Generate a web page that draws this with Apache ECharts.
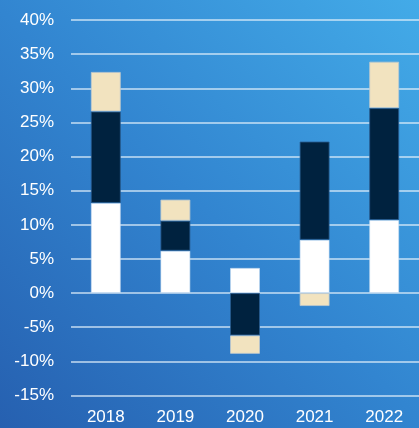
<!DOCTYPE html>
<html>
<head>
<meta charset="utf-8">
<script src="https://cdn.jsdelivr.net/npm/echarts@6/dist/echarts.min.js"></script>
<style>
  html, body { margin: 0; padding: 0; }
  #chart { width: 419px; height: 428px; }
</style>
</head>
<body>
<div id="chart"></div>
<script>
// Years along the x axis
const years = ['2018', '2019', '2020', '2021', '2022'];

// Stacked contributions (percent)
const whiteSeg = [13.2, 6.2, 3.7, 7.8, 10.7];
const navySeg = [13.4, 4.4, -6.2, 14.4, 16.4];
const beigeSeg = [5.8, 3.1, -2.7, -1.9, 6.8];

// Y axis range
const yMin = -15;
const yMax = 40;
const yStep = 5;

const chart = echarts.init(document.getElementById('chart'), null, { renderer: 'canvas' });

function seg(name, data, color, border) {
  return {
    name: name,
    type: 'bar',
    stack: 'total',
    data: data,
    barWidth: 30,
    itemStyle: { color: color, borderColor: border, borderWidth: 1 },
    emphasis: { disabled: true }
  };
}

chart.setOption({
  animation: false,
  backgroundColor: new echarts.graphic.LinearGradient(0, 1, 1, 0, [
    { offset: 0, color: '#2660b0' },
    { offset: 0.5, color: '#3285d0' },
    { offset: 1, color: '#43abe8' }
  ]),
  grid: { left: 71, top: 20, width: 352.5, bottom: 32.5 },
  xAxis: {
    type: 'category',
    data: years,
    axisLine: { show: false },
    axisTick: { show: false },
    axisLabel: {
      color: '#ffffff',
      fontSize: 17,
      fontFamily: 'Liberation Sans, Arial, sans-serif',
      margin: 13
    }
  },
  yAxis: {
    type: 'value',
    min: yMin,
    max: yMax,
    interval: yStep,
    axisLine: { show: false },
    axisTick: { show: false },
    splitLine: { lineStyle: { color: 'rgba(225,238,250,0.85)', width: 1.5 } },
    axisLabel: {
      color: '#ffffff',
      fontSize: 17,
      fontFamily: 'Liberation Sans, Arial, sans-serif',
      margin: 17,
      formatter: '{value}%'
    }
  },
  series: [
    seg('white', whiteSeg, '#ffffff', 'rgba(200,220,240,0.6)'),
    seg('navy', navySeg, '#00223f', 'rgba(40,90,140,0.8)'),
    seg('beige', beigeSeg, '#f2e3bf', 'rgba(190,200,205,0.8)')
  ]
});
</script>
</body>
</html>
